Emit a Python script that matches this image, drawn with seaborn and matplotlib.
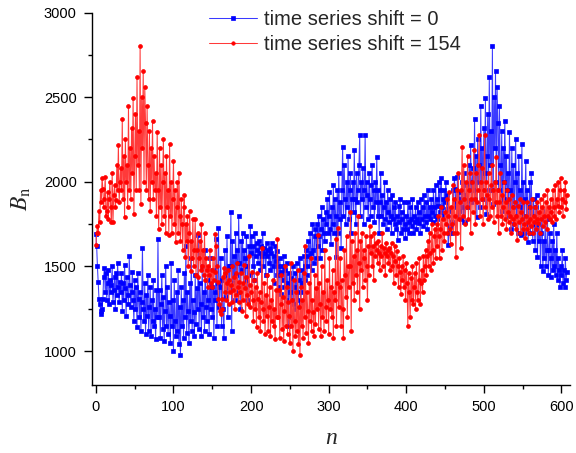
import numpy as np
import pandas as pd
import matplotlib
matplotlib.use("Agg")
import matplotlib.pyplot as plt
import seaborn as sns

SHIFT = 154
X_LABEL = "n"
Y_LABEL = r"$B_{\mathrm{n}}$"
LABEL_0 = "time series shift = 0"
LABEL_1 = "time series shift = 154"
X_TICKS = [0, 100, 200, 300, 400, 500, 600]
Y_TICKS = [1000, 1500, 2000, 2500, 3000]

# B_n values read from the unshifted (blue) series
blue_a = [
    1690,1620,1500,1410,1310,1280,1240,1220,1250,1310,1440,1490,1350,1460,1300,1400,
    1480,1280,1420,1350,1390,1500,1290,1360,1440,1250,1460,1330,1520,1380,1290,1410,
    1350,1460,1240,1400,1300,1510,1370,1210,1440,1330,1280,1560,1390,1260,1350,1470,
    1300,1180,1420,1250,1380,1140,1460,1310,1200,1350,1120,1290,1610,1250,1180,1400,
    1100,1330,1210,1450,1120,1260,1380,1090,1300,1180,1420,1150,1250,1070,1360,1200,
    1660,1200,1360,1080,1280,1450,1130,1320,1060,1240,1500,1150,1380,1100,1290,1210,
    1050,1520,1150,1300,1000,1420,1180,1090,1350,1120,1480,1040,1260,975,1380,1150,
    1300,1080,1460,1200,1620,1110,1350,1240,1050,1400,1180,1550,1120,1300,1230,1090,
    1450,1160,1370,1250,1685,1130,1400,1280,1090,1500,1200,1350,1120,1600,1260,1180,
    1420,1300,1100,1550,1250,1380,1200,1480,1075,1350,1300,1665,1150,1400,1725,1260,
]
blue_b = [
    1380,1550,1150,1420,1250,1075,1600,1450,1320,1680,1200,1500,1380,1500,1820,1120,
    1650,1400,1560,1300,1700,1450,1600,1350,1800,1520,1250,1650,1480,1700,1380,1600,
    1550,1420,1680,1500,1300,1620,1450,1740,1580,1680,1500,1620,1420,1695,1560,1640,
    1600,1520,1650,1580,1480,1620,1560,1700,1500,1610,1580,1450,1640,1560,1600,1520,
    1610,1480,1580,1640,1500,1560,1400,1620,1530,1450,1590,1500,1380,1550,1470,1340,
    1500,1420,1560,1380,1480,1300,1520,1400,1150,1460,1350,1200,1430,1300,1500,1280,
    1380,1460,1250,1520,1350,1300,1420,1550,1280,1400,1480,1350,1560,1420,1500,1600,
    1450,1560,1650,1500,1700,1580,1480,1750,1600,1520,1680,1720,1550,1750,1620,1800,
    1680,1550,1720,1850,1600,1780,1700,1650,1820,1750,1900,1700,1800,1940,1720,1635,
]
blue_c = [
    1850,1750,1980,1700,1900,1800,1555,1950,1700,2050,1780,1880,1610,1950,2205,1800,
    2100,1900,1750,2000,1850,2150,1780,1950,2050,1700,1900,2000,1820,2185,1900,1750,
    2050,1880,1950,2100,2275,1800,2000,1900,2080,1750,1950,2275,1850,2000,1920,1780,
    2050,1900,1800,1980,2100,1850,1950,1760,2000,1880,2145,1800,1950,1700,1880,2050,
    1800,1920,1750,1850,2000,1780,1880,1720,1950,1820,1760,1900,1800,1700,1920,1780,
    1850,1750,1880,1720,1800,1655,1860,1760,1900,1700,1820,1780,1720,1880,1750,1670,
    1800,1720,1880,1760,1700,1850,1780,1740,1900,1695,1800,1760,1850,1720,1780,1880,
    1755,1820,1700,1900,1780,1850,1740,1920,1800,1760,1880,1720,1950,1800,1850,1780,
    1900,1820,1760,1950,1850,1800,1980,1780,1900,1860,2000,1820,1950,2025,1850,1900,
    1800,1950,1880,2000,1840,1920,
]
blue_d = [
    1625,1695,1740,1700,1830,1760,1950,1880,2020,1960,1850,1900,2030,1800,1830,1940,
    1780,1900,2000,1850,1760,2050,1760,1920,1980,1850,1890,2100,1950,2220,1880,2000,
    2080,1950,2370,1900,2150,1790,2250,2000,2100,1850,2445,1950,2200,1900,2320,2050,
    2495,1810,2150,2400,1950,2620,2100,2300,1950,2800,1870,2500,2200,2655,2000,2560,
    2350,1950,2450,2100,1900,2300,1830,2200,2000,2360,1900,2150,1950,2050,1800,2295,
    1950,1720,2200,1850,2100,1750,2000,2255,1800,2050,1700,2150,1850,1950,1685,2225,
    1800,2000,1700,1900,2125,1750,1950,1645,1850,2000,1700,2050,1800,1650,1900,1750,
    1600,1850,1920,1555,1750,1650,1800,1500,1700,1830,1475,1650,1550,1780,1500,1600,
    1780,1450,1600,1700,1435,1550,1650,1480,1750,1500,1600,1450,1700,1420,1550,1480,
    1380,1500,1450,1600,1400,1480,1380,1550,1420,1470,
]

blue = np.array(blue_a + blue_b + blue_c + blue_d, dtype=float)
n = np.arange(len(blue))
red = np.roll(blue, SHIFT)

df = pd.DataFrame({"n": np.concatenate([n, n]),
                   "B": np.concatenate([blue, red]),
                   "series": [LABEL_0] * len(n) + [LABEL_1] * len(n)})

sns.set_style("ticks")
plt.rcParams["font.family"] = ["Liberation Sans", "DejaVu Sans"]
plt.rcParams["mathtext.fontset"] = "stix"

fig = plt.figure(figsize=(5.76, 4.53), dpi=100)
ax = fig.add_axes([92 / 576, 1 - 385 / 453, 478 / 576, (385 - 12.5) / 453])

sns.lineplot(data=df[df.series == LABEL_0], x="n", y="B", ax=ax,
             color="#3a3aff", lw=0.75, marker="s", markersize=2.6,
             mfc="#0000ff", mec="#0000ff", mew=0.5,
             estimator=None, sort=False, label=LABEL_0)
sns.lineplot(data=df[df.series == LABEL_1], x="n", y="B", ax=ax,
             color="#ff3a3a", lw=0.75, marker="o", markersize=2.8,
             mfc="#ff0000", mec="#ff0000", mew=0.5,
             estimator=None, sort=False, label=LABEL_1)

ax.set_xlim(-5, 611)
ax.set_ylim(800, 3000)
ax.set_xticks(X_TICKS)
ax.set_yticks(Y_TICKS)
ax.set_xticks(np.arange(50, 611, 100), minor=True)
ax.set_yticks(np.arange(1250, 3000, 500), minor=True)
ax.tick_params(axis="both", which="major", direction="out", length=6, width=1,
               labelsize=10.5, pad=5, color="black", labelcolor="black")
ax.tick_params(axis="both", which="minor", direction="out", length=3, width=1,
               color="black")
for s in ["top", "right"]:
    ax.spines[s].set_visible(False)
for s in ["left", "bottom"]:
    ax.spines[s].set_color("black")
    ax.spines[s].set_linewidth(1.0)

ax.set_xlabel(X_LABEL, fontsize=17, family="Liberation Serif", style="italic", labelpad=10)
ax.set_ylabel(Y_LABEL, fontsize=17, labelpad=8)

leg = ax.legend(loc="upper left", bbox_to_anchor=(209 / 576, 1 - 10 / 453),
                bbox_transform=fig.transFigure, frameon=False, fontsize=14.5,
                handlelength=2.4, handletextpad=0.35, labelspacing=0.28,
                borderpad=0, borderaxespad=0)
for h in leg.legend_handles:
    h.set_markersize(2.5)

fig.savefig("out.png", dpi=100)
